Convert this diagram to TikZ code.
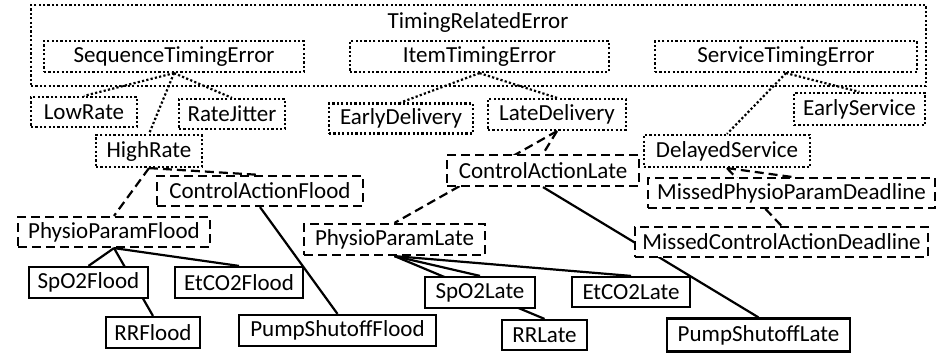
\documentclass[tikz,border=0pt]{standalone}
\usepackage{fontspec}
\setmainfont{Carlito}
\pgfdeclarelayer{back}
\pgfdeclarelayer{links}
\pgfsetlayers{back,links,main}
\begin{document}
\begin{tikzpicture}[x=1bp,y=-1bp,
  every node/.style={font=\fontsize{23bp}{27bp}\selectfont, inner sep=0pt, fill=white, draw, line width=2.2bp},
  dotbox/.style={dash pattern=on 2.2bp off 2.2bp},
  dashbox/.style={dash pattern=on 9bp off 5bp},
  solidbox/.style={solid},
  dotlink/.style={line width=2.2bp, dash pattern=on 2.2bp off 2.2bp},
  dashlink/.style={line width=2.2bp, dash pattern=on 9bp off 5bp},
  solidlink/.style={line width=2.2bp}]
\useasboundingbox (0,0) rectangle (939,354);

% outer group
\begin{pgfonlayer}{back}
\node[dotbox, minimum width=895bp, minimum height=81bp] (tre) at (478.5,45.5) {};
\end{pgfonlayer}
\node[draw=none, fill=none] (tretitle) at (478,22) {TimingRelatedError};

% timing error kinds
\node[dotbox, minimum width=260bp, minimum height=31bp] (seq) at (174,56.5) {SequenceTimingError};
\node[dotbox, minimum width=259bp, minimum height=31bp] (item) at (479.5,56.5) {ItemTimingError};
\node[dotbox, minimum width=262bp, minimum height=31bp] (serv) at (786,56.5) {ServiceTimingError};

\node[dotbox, minimum width=106bp, minimum height=30bp] (low) at (84,112) {LowRate};
\node[dotbox, minimum width=106bp, minimum height=30bp] (jit) at (232,114) {RateJitter};
\node[dotbox, minimum width=106bp, minimum height=32bp] (high) at (149,151) {HighRate};
\node[dotbox, minimum width=144bp, minimum height=30bp] (early) at (401,118.5) {EarlyDelivery};
\node[dotbox, minimum width=138bp, minimum height=31bp] (late) at (557,114.5) {LateDelivery};
\node[dotbox, minimum width=131bp, minimum height=32bp] (earlys) at (859.5,109) {EarlyService};
\node[dotbox, minimum width=166bp, minimum height=32bp] (delay) at (727,151) {DelayedService};

% hazards
\node[dashbox, minimum width=206bp, minimum height=30bp] (caf) at (260,191) {ControlActionFlood};
\node[dashbox, minimum width=192bp, minimum height=30bp] (ppf) at (114,232) {PhysioParamFlood};
\node[dashbox, minimum width=192bp, minimum height=31bp] (cal) at (543,170.5) {ControlActionLate};
\node[dashbox, minimum width=181bp, minimum height=31bp] (ppl) at (394.5,239.5) {PhysioParamLate};
\node[dashbox, minimum width=287bp, minimum height=30bp] (mppd) at (791.5,193) {MissedPhysioParamDeadline};
\node[dashbox, minimum width=293bp, minimum height=30bp] (mcad) at (781.5,242) {MissedControlActionDeadline};

% concrete failures
\node[solidbox, minimum width=119bp, minimum height=31bp] (spf) at (88.5,282.5) {SpO2Flood};
\node[solidbox, minimum width=128bp, minimum height=31bp] (etf) at (239,282.5) {EtCO2Flood};
\node[solidbox, minimum width=94bp, minimum height=31bp] (rrf) at (153,332.5) {RRFlood};
\node[solidbox, minimum width=197bp, minimum height=31bp] (psf) at (337.5,330.5) {PumpShutoffFlood};
\node[solidbox, minimum width=110bp, minimum height=31bp] (spl) at (480,292.5) {SpO2Late};
\node[solidbox, minimum width=118bp, minimum height=30bp] (etl) at (631,292) {EtCO2Late};
\node[solidbox, minimum width=85bp, minimum height=30bp] (rrl) at (544.5,335) {RRLate};
\node[solidbox, minimum width=183bp, minimum height=33bp] (psl) at (758.5,335) {PumpShutoffLate};

\begin{pgfonlayer}{links}
\draw[dotlink] (seq.south) -- (low.north);
\draw[dotlink] (seq.south) -- (jit.north);
\draw[dotlink] (seq.south) -- (high.north);
\draw[dotlink] (item.south) -- (early.north);
\draw[dotlink] (item.south) -- (late.north);
\draw[dotlink] (serv.south) -- (earlys.north);
\draw[dotlink] (serv.south) -- (delay.north);

\draw[dashlink] (high.south) -- (ppf.north);
\draw[dashlink] (high.south) -- (caf.north);
\draw[dashlink] (late.south) -- (cal.north);
\draw[dashlink] (late.south) -- (ppl.north);
\draw[dashlink] (delay.south) -- (mppd.north);
\draw[dashlink] (delay.south) -- (mcad.north);

\draw[solidlink] (caf.south) -- (psf.north);
\draw[solidlink] (ppf.south) -- (spf.north);
\draw[solidlink] (ppf.south) -- (rrf.north);
\draw[solidlink] (ppf.south) -- (etf.north);
\draw[solidlink] (cal.south) -- (psl.north);
\draw[solidlink] (ppl.south) -- (spl.north);
\draw[solidlink] (ppl.south) -- (rrl.north);
\draw[solidlink] (ppl.south) -- (etl.north);
\end{pgfonlayer}
\end{tikzpicture}
\end{document}
